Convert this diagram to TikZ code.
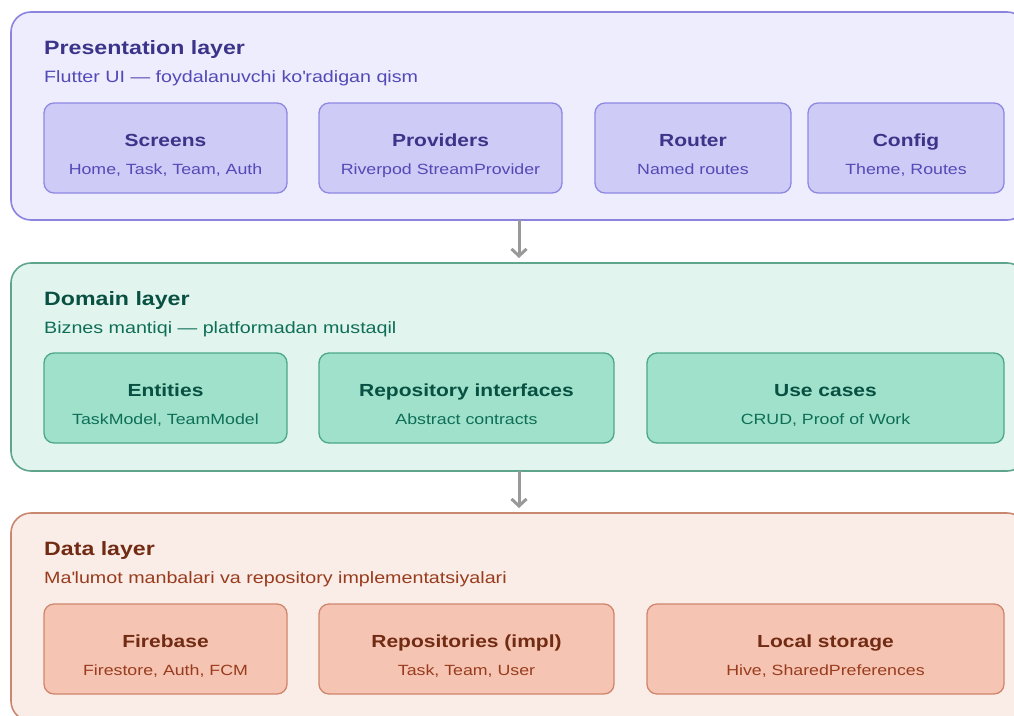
\documentclass[tikz,border=0pt]{standalone}
\usepackage{fontspec}
\setmainfont[FakeStretch=1.2]{Liberation Sans}
\usepackage{tikz}
\usetikzlibrary{arrows.meta,positioning}

\definecolor{presbg}{HTML}{EEEDFE}
\definecolor{presline}{HTML}{8A84DE}
\definecolor{presfill}{HTML}{CECBF6}
\definecolor{presbox}{HTML}{8F88E3}
\definecolor{presdark}{HTML}{3C3489}
\definecolor{prestext}{HTML}{534AB7}
\definecolor{dombg}{HTML}{E1F5EE}
\definecolor{domline}{HTML}{5FA58C}
\definecolor{domfill}{HTML}{9FE1CB}
\definecolor{dombox}{HTML}{4CA886}
\definecolor{domdark}{HTML}{085041}
\definecolor{domtext}{HTML}{0F6E56}
\definecolor{databg}{HTML}{FAECE7}
\definecolor{dataline}{HTML}{C98770}
\definecolor{datafill}{HTML}{F5C4B3}
\definecolor{databox}{HTML}{D0866C}
\definecolor{datadark}{HTML}{712B13}
\definecolor{datatext}{HTML}{993C1D}
\definecolor{flowgray}{HTML}{999999}

\begin{document}
\begin{tikzpicture}[x=1pt,y=-1pt,>={Straight Barb[length=7pt,width=15pt]},
  layer/.style={draw,line width=1.6pt,rounded corners=20pt,minimum width=1016pt,minimum height=208pt,anchor=north west,inner sep=0pt,outer sep=0pt},
  part/.style={draw,line width=1.3pt,rounded corners=10pt,minimum height=90pt,inner sep=0pt,outer sep=0pt,anchor=north west},
  ltitle/.style={anchor=base west,inner sep=0pt,font=\fontsize{19.3}{22}\selectfont\bfseries},
  lsub/.style={anchor=base west,inner sep=0pt,font=\fontsize{16.4}{19}\selectfont},
  ptitle/.style={anchor=base,inner sep=0pt,font=\fontsize{17.5}{20}\selectfont\bfseries},
  psub/.style={anchor=base,inner sep=0pt,font=\fontsize{14.8}{17}\selectfont},
  flow/.style={->,draw=flowgray,line width=3pt,shorten >=5pt}]
\useasboundingbox (0,0) rectangle (1014,715);

% layers
\node[layer,fill=presbg,draw=presline] at (11,12) (presentation) {};
\node[layer,fill=dombg,draw=domline] at (11,263) (domain) {};
\node[layer,fill=databg,draw=dataline] at (11,513) (data) {};

\node[ltitle,text=presdark] at ([xshift=33pt,yshift=-42pt]presentation.north west) (prestitle) {Presentation layer};
\node[lsub,text=prestext] at ([xshift=33pt,yshift=-70pt]presentation.north west) (pressub) {Flutter UI — foydalanuvchi ko\textquotesingle radigan qism};
\node[ltitle,text=domdark] at ([xshift=33pt,yshift=-42pt]domain.north west) (domtitle) {Domain layer};
\node[lsub,text=domtext] at ([xshift=33pt,yshift=-70pt]domain.north west) (domsub) {Biznes mantiqi — platformadan mustaqil};
\node[ltitle,text=datadark] at ([xshift=33pt,yshift=-42pt]data.north west) (datatitle) {Data layer};
\node[lsub,text=datatext] at ([xshift=33pt,yshift=-70pt]data.north west) (datasub) {Ma\textquotesingle lumot manbalari va repository implementatsiyalari};

% presentation parts
\node[part,fill=presfill,draw=presbox,minimum width=243pt] at ([xshift=33pt,yshift=-91pt]presentation.north west) (screens) {};
\node[part,fill=presfill,draw=presbox,minimum width=243pt,right=32pt of screens] (providers) {};
\node[part,fill=presfill,draw=presbox,minimum width=196pt,right=33pt of providers] (router) {};
\node[part,fill=presfill,draw=presbox,minimum width=196pt,right=17pt of router] (config) {};

\node[ptitle,text=presdark] at ([yshift=-43pt]screens.north) (screenst) {Screens};
\node[psub,text=prestext] at ([yshift=-71pt]screens.north) (screenss) {Home, Task, Team, Auth};
\node[ptitle,text=presdark] at ([yshift=-43pt]providers.north) (providerst) {Providers};
\node[psub,text=prestext] at ([yshift=-71pt]providers.north) (providerss) {Riverpod StreamProvider};
\node[ptitle,text=presdark] at ([yshift=-43pt]router.north) (routert) {Router};
\node[psub,text=prestext] at ([yshift=-71pt]router.north) (routers) {Named routes};
\node[ptitle,text=presdark] at ([yshift=-43pt]config.north) (configt) {Config};
\node[psub,text=prestext] at ([yshift=-71pt]config.north) (configs) {Theme, Routes};

% domain parts
\node[part,fill=domfill,draw=dombox,minimum width=243pt] at ([xshift=33pt,yshift=-90pt]domain.north west) (entities) {};
\node[part,fill=domfill,draw=dombox,minimum width=295pt,right=32pt of entities] (repoif) {};
\node[part,fill=domfill,draw=dombox,minimum width=357pt,right=33pt of repoif] (usecases) {};

\node[ptitle,text=domdark] at ([yshift=-43pt]entities.north) (entitiest) {Entities};
\node[psub,text=domtext] at ([yshift=-71pt]entities.north) (entitiess) {TaskModel, TeamModel};
\node[ptitle,text=domdark] at ([yshift=-43pt]repoif.north) (repoift) {Repository interfaces};
\node[psub,text=domtext] at ([yshift=-71pt]repoif.north) (repoifs) {Abstract contracts};
\node[ptitle,text=domdark] at ([yshift=-43pt]usecases.north) (usecasest) {Use cases};
\node[psub,text=domtext] at ([yshift=-71pt]usecases.north) (usecasess) {CRUD, Proof of Work};

% data parts
\node[part,fill=datafill,draw=databox,minimum width=243pt] at ([xshift=33pt,yshift=-91pt]data.north west) (firebase) {};
\node[part,fill=datafill,draw=databox,minimum width=295pt,right=32pt of firebase] (repoimpl) {};
\node[part,fill=datafill,draw=databox,minimum width=357pt,right=33pt of repoimpl] (localst) {};

\node[ptitle,text=datadark] at ([yshift=-43pt]firebase.north) (firebaset) {Firebase};
\node[psub,text=datatext] at ([yshift=-71pt]firebase.north) (firebases) {Firestore, Auth, FCM};
\node[ptitle,text=datadark] at ([yshift=-43pt]repoimpl.north) (repoimplt) {Repositories (impl)};
\node[psub,text=datatext] at ([yshift=-71pt]repoimpl.north) (repoimpls) {Task, Team, User};
\node[ptitle,text=datadark] at ([yshift=-43pt]localst.north) (localstt) {Local storage};
\node[psub,text=datatext] at ([yshift=-71pt]localst.north) (localsts) {Hive, SharedPreferences};

% flow
\draw[flow] (presentation.south) -- (domain.north);
\draw[flow] (domain.south) -- (data.north);
\end{tikzpicture}
\end{document}
